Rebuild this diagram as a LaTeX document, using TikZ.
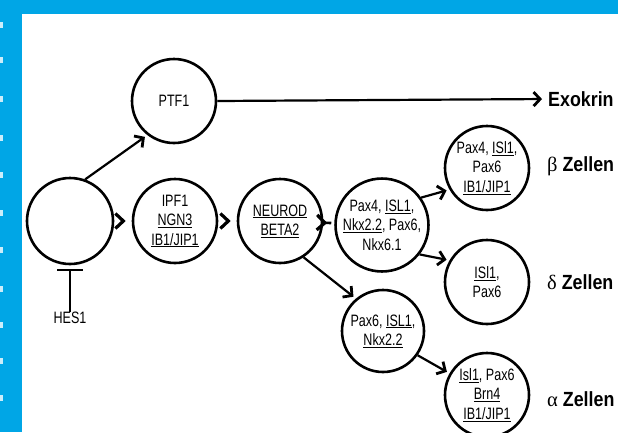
\documentclass[tikz,border=0pt]{standalone}
\usepackage{fontspec}
\setmainfont{Liberation Sans}[FakeStretch=0.76]
\newfontfamily\boldcond{Liberation Sans Bold}[FakeStretch=0.87]
\newfontfamily\grk{Liberation Serif}
\usetikzlibrary{arrows.meta}
\definecolor{stripblue}{RGB}{0,166,230}
\tikzset{
  cell/.style={circle, draw, line width=2.6pt, minimum size=84pt, inner sep=0pt, align=center,
    font=\fontsize{16.5}{19.5}\selectfont},
  barb/.style={line width=2.2pt, -{Straight Barb[length=6.5pt,width=14pt,line width=2.8pt]}, shorten >=3pt},
  chev/.style={line width=2.6pt, -{Straight Barb[length=8pt,width=15pt,line width=3.2pt]}, shorten <=10pt, shorten >=6pt},
  tag/.style={anchor=west, inner sep=0pt, font=\fontsize{20.5}{23}\selectfont\boldcond},
}
\begin{document}
\begin{tikzpicture}[x=1pt,y=-1pt]
\useasboundingbox (0,0) rectangle (618,432);
\fill[white] (0,0) rectangle (618,432);
\fill[stripblue] (0,0) rectangle (22,432);
\fill[stripblue] (0,0) rectangle (618,14);
\foreach \yy in {22,57,96,135,172,210,247,286,322,358,395}
  \fill[white,opacity=0.8] (0,\yy) rectangle (3,\yy+6);

\node[cell, minimum size=86pt] (start) at (70,221) {};
\node[cell] (ptf) at (174,101) {PTF1};
\node[cell] (ipf) at (175,221) {IPF1\\\underline{NGN3}\\\underline{IB1/JIP1}};
\node[cell] (neurod) at (280,221) {\underline{NEUROD}\\\underline{BETA2}};
\node[cell] (mid) at (382,225) {Pax4, \underline{ISL1},\\\underline{Nkx2.2}, Pax6,\\Nkx6.1};
\node[cell] (beta) at (487,168) {Pax4, \underline{ISl1},\\Pax6\\\underline{IB1/JIP1}};
\node[cell] (delta) at (487,282) {\underline{ISl1},\\Pax6};
\node[cell, minimum size=82pt] (pax) at (383,331) {Pax6, \underline{ISL1},\\\underline{Nkx2.2}};
\node[cell] (alpha) at (487,395) {\underline{Isl1}, Pax6\\\underline{Brn4}\\\underline{IB1/JIP1}};

\node[tag] (exo) at (548,99) {Exokrin};
\node[tag] (zb) at (547,166) {{\grk β} Zellen};
\node[tag] (zd) at (547,282) {{\grk δ} Zellen};
\node[tag] (za) at (547,399) {{\grk α} Zellen};

\coordinate (hbar) at (70,270);
\node[inner sep=0pt, font=\fontsize{16.5}{19}\selectfont] (hes) at (70,318) {HES1};
\draw[line width=1.2pt] (hbar) -- (hes.north);
\draw[line width=1.2pt] ([xshift=-13pt]hbar) -- ([xshift=13pt]hbar);

\draw[barb] (start.70) -- (ptf.232);
\draw[barb, shorten >=6pt] (ptf.east) -- (exo.west);
\draw[chev] (start) -- (ipf);
\draw[chev] (ipf) -- (neurod);
\draw[chev, shorten >=7pt, shorten <=8pt] (neurod) -- (mid);
\draw[barb] (mid.35) -- (beta.210);
\draw[barb] (mid.-38) -- (delta.150);
\draw[barb] (neurod.-57) -- (pax.130);
\draw[barb] (pax.-35) -- (alpha.150);
\end{tikzpicture}
\end{document}
